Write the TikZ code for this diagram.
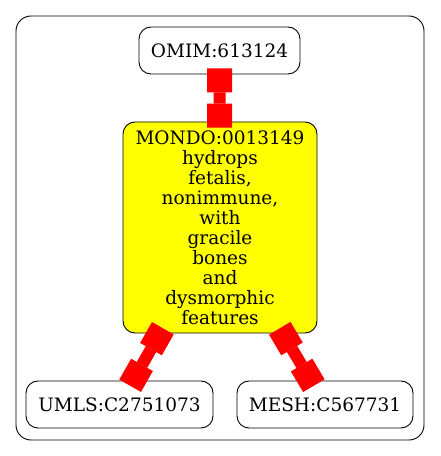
\documentclass[tikz,border=0pt]{standalone}
\usepackage{fontspec}
\setmainfont{DejaVu Serif}
\usetikzlibrary{arrows.meta}
\definecolor{nodeyellow}{RGB}{255,255,0}
\definecolor{edgered}{RGB}{255,0,0}
\begin{document}
\begin{tikzpicture}[x=1pt,y=1pt,
  nodebox/.style={draw=black,line width=0.9pt,rounded corners=12pt,inner sep=0pt,
    font=\fontsize{18.5}{20}\selectfont,align=center},
  edge/.style={draw=edgered,line width=12pt,
    {Square[length=24pt,width=25pt,line width=0pt]}-{Square[length=24pt,width=25pt,line width=0pt]},
    shorten <=-6pt,shorten >=-6pt}]
\useasboundingbox (0,0) rectangle (440,456);
\draw[line width=0.9pt,rounded corners=15pt] (16,16) rectangle (424,440);
\node[nodebox,minimum width=161pt,minimum height=47pt] (omim) at (219.5,405.5) {OMIM:613124};
\node[nodebox,fill=nodeyellow,minimum width=194pt,minimum height=211pt] (mondo) at (220,228.5)
  {MONDO:0013149\\hydrops\\fetalis,\\nonimmune,\\with\\gracile\\bones\\and\\dysmorphic\\features};
\node[nodebox,minimum width=187pt,minimum height=47pt] (umls) at (119.5,51.5) {UMLS:C2751073};
\node[nodebox,minimum width=176pt,minimum height=47pt] (mesh) at (325,51.5) {MESH:C567731};
\draw[edge] (omim) -- (mondo);
\draw[edge] (mondo) -- (umls);
\draw[edge] (mondo) -- (mesh);
\end{tikzpicture}
\end{document}
